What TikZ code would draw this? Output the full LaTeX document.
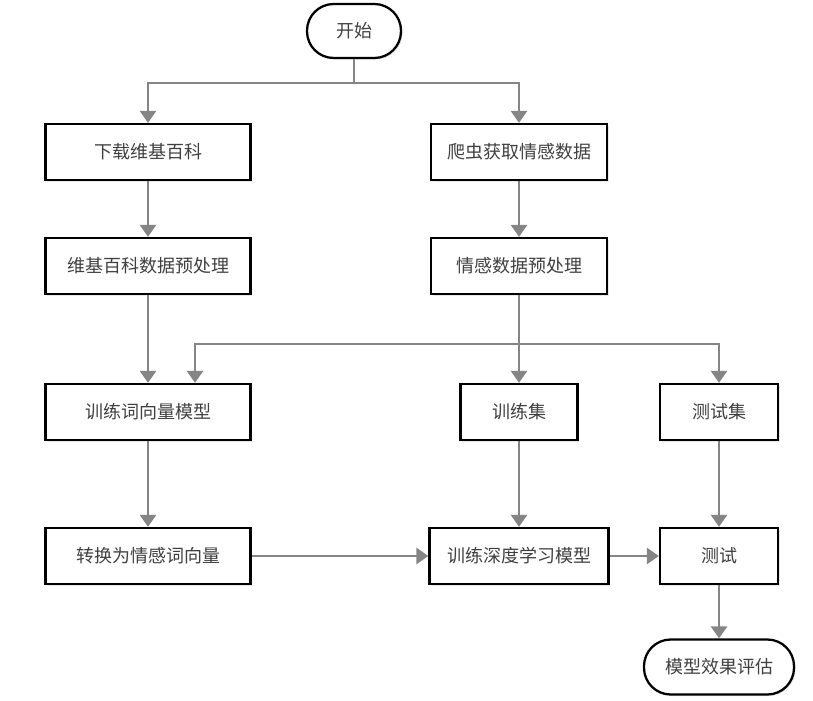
\documentclass[tikz,border=0pt]{standalone}
\usepackage{fontspec}
\setmainfont{Noto Sans CJK SC}
\usetikzlibrary{arrows.meta,shadows,calc}
\definecolor{linegray}{HTML}{858585}
\definecolor{txtgray}{HTML}{404040}
\tikzset{
  box/.style={draw=black, line width=1.7pt, fill=white, text=txtgray,
    font=\fontsize{13.5pt}{16pt}\selectfont, minimum height=56*0.75pt, inner sep=0pt,
    drop shadow={opacity=0.18, shadow xshift=1.2pt, shadow yshift=-1.2pt}},
  term/.style={box, rounded corners=20pt},
  conn/.style={draw=linegray, line width=2pt},
  arr/.style={conn, -{Triangle[length=9pt,width=12pt]}},
}
\begin{document}
\begin{tikzpicture}[x=0.75pt,y=-0.75pt]
\useasboundingbox (0,0) rectangle (813,700);
\node[term, minimum width=94*0.75pt, minimum height=54*0.75pt] (start) at (354,31) {开始};
\node[box, minimum width=205*0.75pt] (b1) at (148,152) {下载维基百科};
\node[box, minimum width=205*0.75pt] (b2) at (148,266) {维基百科数据预处理};
\node[box, minimum width=176*0.75pt] (r1) at (519,152) {爬虫获取情感数据};
\node[box, minimum width=176*0.75pt] (r2) at (519,266) {情感数据预处理};
\node[box, minimum width=205*0.75pt] (b3) at (148,412) {训练词向量模型};
\node[box, minimum width=117*0.75pt] (t1) at (519,412) {训练集};
\node[box, minimum width=118*0.75pt] (t2) at (719,412) {测试集};
\node[box, minimum width=205*0.75pt] (b4) at (148,556) {转换为情感词向量};
\node[box, minimum width=179*0.75pt] (m) at (519,556) {训练深度学习模型};
\node[box, minimum width=118*0.75pt] (te) at (719,556) {测试};
\node[term, minimum width=150*0.75pt, minimum height=55*0.75pt] (e) at (719,667) {模型效果评估};
\coordinate (j1) at (354,83);
\coordinate (j2) at (519,344);
\coordinate (j3) at (195,344);
\begin{scope}[on background layer/.try]
\end{scope}
\draw[conn] (start.south) -- (j1);
\draw[arr] (j1) -| (b1.north);
\draw[arr] (j1) -| (r1.north);
\draw[arr] (b1) -- (b2);
\draw[arr] (r1) -- (r2);
\draw[arr] (b2) -- (b3);
\draw[conn] (r2.south) -- (j2);
\draw[arr] (j2) -- (t1.north);
\draw[arr] (j2) -| (t2.north);
\draw[arr] (j2) -- (j3) -- (j3 |- b3.north);
\draw[arr] (b3) -- (b4);
\draw[arr] (t1) -- (m);
\draw[arr] (t2) -- (te);
\draw[arr] (b4) -- (m);
\draw[arr] (m) -- (te);
\draw[arr] (te) -- (e);
\end{tikzpicture}
\end{document}
